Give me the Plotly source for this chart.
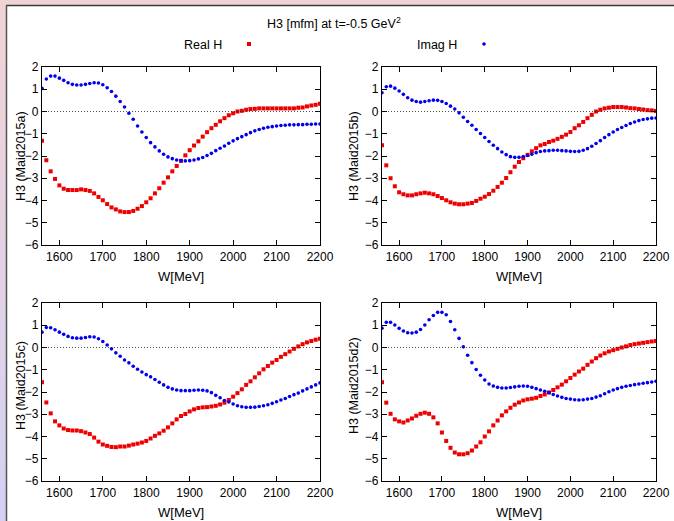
import plotly.graph_objects as go

W = [1560, 1570, 1580, 1590, 1600, 1610, 1620, 1630, 1640, 1650, 1660, 1670, 1680, 1690, 1700,
     1710, 1720, 1730, 1740, 1750, 1760, 1770, 1780, 1790, 1800, 1810, 1820, 1830, 1840, 1850,
     1860, 1870, 1880, 1890, 1900, 1910, 1920, 1930, 1940, 1950, 1960, 1970, 1980, 1990, 2000,
     2010, 2020, 2030, 2040, 2050, 2060, 2070, 2080, 2090, 2100, 2110, 2120, 2130, 2140, 2150,
     2160, 2170, 2180, 2190, 2200]

real_a = [-1.32, -2.19, -2.69, -3.03, -3.32, -3.47, -3.53, -3.53, -3.53, -3.50, -3.53, -3.57, -3.68, -3.84, -3.99,
          -4.16, -4.31, -4.40, -4.49, -4.52, -4.52, -4.47, -4.37, -4.25, -4.08, -3.90, -3.68, -3.45, -3.20, -2.96,
          -2.69, -2.45, -2.22, -1.97, -1.74, -1.53, -1.34, -1.13, -0.93, -0.75, -0.60, -0.44, -0.30, -0.17, -0.08,
          0.00, 0.03, 0.08, 0.11, 0.12, 0.14, 0.14, 0.14, 0.14, 0.14, 0.14, 0.14, 0.14, 0.14, 0.17,
          0.18, 0.23, 0.27, 0.30, 0.35]
imag_a = [1.04, 1.46, 1.59, 1.59, 1.50, 1.40, 1.29, 1.22, 1.19, 1.19, 1.22, 1.26, 1.29, 1.28, 1.20,
          1.07, 0.90, 0.69, 0.45, 0.20, -0.08, -0.35, -0.65, -0.92, -1.17, -1.40, -1.59, -1.77, -1.92, -2.04,
          -2.12, -2.18, -2.21, -2.22, -2.21, -2.18, -2.13, -2.07, -1.98, -1.88, -1.76, -1.65, -1.55, -1.43, -1.32,
          -1.22, -1.13, -1.04, -0.95, -0.87, -0.81, -0.75, -0.71, -0.68, -0.65, -0.63, -0.62, -0.60, -0.60, -0.59,
          -0.59, -0.57, -0.57, -0.56, -0.56]

real_b = [-1.52, -2.42, -3.00, -3.36, -3.63, -3.72, -3.77, -3.77, -3.72, -3.68, -3.65, -3.68, -3.72, -3.80, -3.89,
          -3.99, -4.08, -4.14, -4.17, -4.17, -4.14, -4.11, -4.02, -3.92, -3.83, -3.71, -3.56, -3.39, -3.20, -2.99,
          -2.73, -2.48, -2.27, -2.10, -1.95, -1.79, -1.65, -1.52, -1.46, -1.37, -1.31, -1.23, -1.14, -1.04, -0.92,
          -0.75, -0.62, -0.47, -0.30, -0.15, 0.00, 0.08, 0.14, 0.17, 0.20, 0.20, 0.20, 0.18, 0.15, 0.14,
          0.11, 0.09, 0.06, 0.05, 0.02]
imag_b = [0.84, 1.11, 1.14, 1.05, 0.92, 0.77, 0.62, 0.51, 0.45, 0.42, 0.45, 0.48, 0.51, 0.50, 0.45,
          0.36, 0.24, 0.11, -0.06, -0.26, -0.45, -0.62, -0.81, -0.99, -1.17, -1.35, -1.52, -1.67, -1.82, -1.94,
          -2.03, -2.06, -2.06, -2.03, -1.98, -1.92, -1.85, -1.80, -1.77, -1.76, -1.74, -1.74, -1.76, -1.77, -1.79,
          -1.80, -1.79, -1.74, -1.67, -1.56, -1.44, -1.31, -1.17, -1.04, -0.92, -0.81, -0.72, -0.63, -0.54, -0.47,
          -0.41, -0.36, -0.33, -0.30, -0.29]

real_c = [-1.56, -2.47, -2.96, -3.32, -3.50, -3.64, -3.71, -3.73, -3.73, -3.76, -3.82, -3.89, -4.05, -4.23, -4.36,
          -4.42, -4.47, -4.48, -4.45, -4.45, -4.41, -4.36, -4.32, -4.27, -4.20, -4.09, -3.97, -3.86, -3.74, -3.59,
          -3.41, -3.23, -3.08, -2.99, -2.87, -2.78, -2.72, -2.69, -2.68, -2.65, -2.62, -2.56, -2.48, -2.36, -2.21,
          -2.05, -1.88, -1.68, -1.52, -1.34, -1.16, -0.98, -0.83, -0.68, -0.56, -0.42, -0.30, -0.18, -0.06, 0.05,
          0.15, 0.23, 0.29, 0.35, 0.39]
imag_c = [0.69, 0.90, 0.89, 0.80, 0.69, 0.59, 0.50, 0.44, 0.42, 0.42, 0.45, 0.48, 0.47, 0.39, 0.27,
          0.11, -0.06, -0.24, -0.39, -0.56, -0.69, -0.84, -0.98, -1.10, -1.22, -1.32, -1.44, -1.56, -1.68, -1.79,
          -1.86, -1.91, -1.94, -1.94, -1.94, -1.92, -1.91, -1.92, -1.95, -2.03, -2.15, -2.26, -2.38, -2.45, -2.54,
          -2.62, -2.66, -2.69, -2.69, -2.68, -2.65, -2.62, -2.57, -2.51, -2.44, -2.36, -2.29, -2.20, -2.12, -2.05,
          -1.95, -1.86, -1.77, -1.68, -1.59]

real_d = [-1.56, -2.48, -2.98, -3.23, -3.32, -3.37, -3.28, -3.19, -3.07, -2.98, -2.93, -2.98, -3.14, -3.41, -3.82,
          -4.20, -4.51, -4.72, -4.80, -4.80, -4.75, -4.63, -4.45, -4.26, -4.00, -3.77, -3.50, -3.28, -3.05, -2.87,
          -2.71, -2.57, -2.47, -2.38, -2.33, -2.30, -2.26, -2.18, -2.11, -2.02, -1.91, -1.79, -1.67, -1.52, -1.37,
          -1.22, -1.08, -0.95, -0.78, -0.63, -0.48, -0.36, -0.26, -0.18, -0.12, -0.06, 0.00, 0.05, 0.11, 0.15,
          0.18, 0.21, 0.24, 0.27, 0.29]
imag_d = [0.87, 1.13, 1.13, 1.01, 0.86, 0.74, 0.66, 0.65, 0.69, 0.81, 1.01, 1.25, 1.44, 1.58, 1.58,
          1.47, 1.17, 0.80, 0.41, 0.03, -0.35, -0.68, -0.99, -1.25, -1.46, -1.64, -1.73, -1.79, -1.82, -1.82,
          -1.80, -1.77, -1.74, -1.73, -1.74, -1.79, -1.85, -1.91, -1.97, -2.03, -2.11, -2.18, -2.24, -2.29, -2.32,
          -2.35, -2.36, -2.35, -2.32, -2.29, -2.23, -2.17, -2.08, -1.99, -1.91, -1.85, -1.79, -1.74, -1.71, -1.67,
          -1.64, -1.61, -1.58, -1.55, -1.52]

panel_names = ["H3 (Maid2015a)", "H3 (Maid2015b)", "H3 (Maid2015c)", "H3 (Maid2015d2)"]
real_series = [real_a, real_b, real_c, real_d]
imag_series = [imag_a, imag_b, imag_c, imag_d]
x_ticks = [1600, 1700, 1800, 1900, 2000, 2100, 2200]
y_ticks = [-6, -5, -4, -3, -2, -1, 0, 1, 2]

FW, FH = 674, 521
FONT = "Liberation Sans, Arial, sans-serif"
RED = "#ee0000"
BLUE = "#0000ee"

# pixel boxes of the four panels (left, right, top, bottom)
boxes = [(42, 320, 67, 245), (382, 656, 67, 245), (42, 320, 303, 481), (382, 656, 303, 481)]


def px(x):
    return x / FW


def py(y):
    return (FH - y) / FH


def label(text, x, y, size=12.5, angle=0):
    return dict(text=text, xref="paper", yref="paper", x=px(x), y=py(y),
                showarrow=False, textangle=angle, xanchor="center", yanchor="middle",
                font=dict(family=FONT, size=size, color="black"))


fig = go.Figure()
shapes = []
annotations = []

# page background: pink page, gradient strip on the left, white canvas
top_c = (240, 211, 213)
bot_c = (213, 209, 243)
nb = 26
for i in range(nb):
    t = i / (nb - 1)
    c = tuple(int(round(top_c[k] + (bot_c[k] - top_c[k]) * t)) for k in range(3))
    shapes.append(dict(type="rect", xref="paper", yref="paper", layer="below",
                       x0=0, x1=px(7), y0=py(i * FH / nb), y1=py((i + 1) * FH / nb),
                       fillcolor="rgb(%d,%d,%d)" % c, line=dict(width=0)))
shapes.append(dict(type="rect", xref="paper", yref="paper", layer="below",
                   x0=px(6), x1=1, y0=0, y1=py(5.5),
                   fillcolor="white", line=dict(width=0)))
shapes.append(dict(type="line", xref="paper", yref="paper", layer="below",
                   x0=px(6), x1=1, y0=py(5.5), y1=py(5.5),
                   line=dict(color="#3a3a3a", width=1.5)))
shapes.append(dict(type="line", xref="paper", yref="paper", layer="below",
                   x0=px(6.5), x1=px(6.5), y0=0, y1=py(5.5),
                   line=dict(color="#555555", width=1.5)))

axis_common = dict(showgrid=False, zeroline=False, showline=True, linecolor="black",
                   linewidth=1.2, mirror="allticks", ticks="inside", ticklen=5,
                   tickcolor="black", tickwidth=1, automargin=False,
                   tickfont=dict(family=FONT, size=12, color="black"))

for i, (l, r, t, b) in enumerate(boxes):
    n = "" if i == 0 else str(i + 1)
    xa = "x" + n
    ya = "y" + n
    fig.add_trace(go.Scatter(x=W, y=real_series[i], mode="markers", xaxis=xa, yaxis=ya,
                             name="Real H", showlegend=False,
                             marker=dict(symbol="square", size=4, color=RED,
                                         line=dict(width=0))))
    fig.add_trace(go.Scatter(x=W, y=imag_series[i], mode="markers", xaxis=xa, yaxis=ya,
                             name="Imag H", showlegend=False,
                             marker=dict(symbol="circle", size=3.6, color=BLUE,
                                         line=dict(width=0))))
    fig.layout["xaxis" + n] = dict(axis_common, domain=[px(l), px(r)], range=[1560, 2200],
                                   tickvals=x_ticks, anchor=ya)
    fig.layout["yaxis" + n] = dict(axis_common, domain=[py(b), py(t)],
                                   range=[-6, 2], tickvals=y_ticks, anchor=xa)
    shapes.append(dict(type="line", xref=xa, yref=ya, x0=1560, x1=2200, y0=0, y1=0,
                       line=dict(color="#222222", width=0.8, dash="1px,2px")))
    # axis titles
    annotations.append(label("W[MeV]", (l + r) / 2, b + 31, size=13))
    yc = (t + b) / 2 - (0 if i < 2 else 6)
    annotations.append(label(panel_names[i], 21 if i % 2 == 0 else 354, yc, angle=-90))

# title and key
annotations.append(label("H3 [mfm] at t=-0.5 GeV<sup>2</sup>", 334, 23))
annotations.append(label("Real H", 203, 45))
annotations.append(label("Imag H", 437, 45))
# key samples
shapes.append(dict(type="rect", xref="paper", yref="paper", x0=px(247), x1=px(251),
                   y0=py(46), y1=py(42), fillcolor=RED, line=dict(width=0)))
shapes.append(dict(type="circle", xref="paper", yref="paper", x0=px(482.2), x1=px(485.8),
                   y0=py(45.8), y1=py(42.2), fillcolor=BLUE, line=dict(width=0)))

fig.update_layout(width=FW, height=FH,
                  margin=dict(l=0, r=0, t=0, b=0, pad=0, autoexpand=False),
                  paper_bgcolor="rgb(240,211,213)", plot_bgcolor="white",
                  shapes=shapes, annotations=annotations, showlegend=False,
                  font=dict(family=FONT, color="black"))

fig.write_html("out.html")
